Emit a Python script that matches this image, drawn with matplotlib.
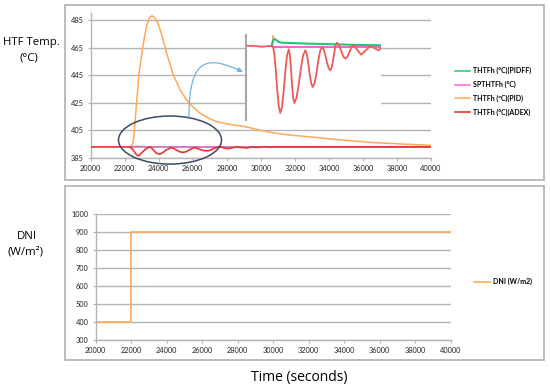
import matplotlib
matplotlib.use("Agg")
import matplotlib.pyplot as plt
from matplotlib.patches import Ellipse, Rectangle, FancyArrowPatch
from matplotlib.path import Path

# ---------------- data ----------------
time_pid = [22310, 22420, 22504, 22600, 22704, 22850, 22998, 23150, 23291, 23450,
            23600, 23780, 23973, 24200, 24466, 24858, 25250, 25642, 26000, 26425,
            26900, 27405, 28200, 29070, 30000, 30830, 31800, 32790, 34750, 36710,
            38500, 40000]
temp_pid = [393.0, 394.5, 397.0, 410.0, 426.0, 447.0, 460.0, 472.0, 481.0, 486.5,
            488.0, 486.5, 482.0, 473.0, 460.8, 445.1, 434.5, 427.0, 422.0, 417.4,
            414.0, 411.3, 409.3, 407.7, 405.0, 403.0, 401.5, 400.4, 398.0, 396.1,
            395.0, 394.2]

time_adex = [20000, 22300, 22450, 22600, 22700, 22790, 22880, 23000, 23200, 23490,
             23650, 23850, 24030, 24200, 24450, 24760, 24950, 25200, 25440, 25650,
             25900, 26130, 26400, 26650, 26910, 27150, 27500, 27800, 28050, 28300,
             28600, 28900, 29200, 29500, 29800, 30200, 30600, 31000, 40000]
temp_adex = [393.0, 393.0, 391.6, 388.9, 387.3, 386.6, 387.2, 388.8, 391.2, 393.2,
             391.3, 388.6, 387.8, 388.6, 390.9, 392.6, 391.4, 389.6, 389.0, 389.8,
             391.6, 392.6, 391.3, 390.3, 390.2, 391.3, 393.2, 392.4, 391.7, 392.3,
             393.2, 392.5, 392.3, 393.1, 392.6, 393.2, 392.9, 393.1, 393.0]

time_pidff = [22300, 22500, 22800, 23200, 24000, 25000, 40000]
temp_pidff = [393.0, 393.3, 393.4, 393.2, 393.05, 393.0, 393.0]

time_sp = [22300, 40000]
temp_sp = [392.8, 392.8]

# zoomed detail (inset)
inset_time_adex = [21000, 21500, 21830, 22100, 22384,
                   22463, 22542, 22621, 22700, 22779,
                   22866, 22953, 23040, 23127, 23214,
                   23272, 23330, 23388, 23446, 23504,
                   23618, 23732, 23847, 23961, 24075,
                   24152, 24229, 24305, 24382, 24459,
                   24555, 24652, 24748, 24845, 24941,
                   25027, 25113, 25199, 25285, 25371,
                   25441, 25510, 25580, 25649, 25719,
                   25827, 25934, 26042, 26149,
                   26258, 26366, 26475, 26584,
                   26773, 26963, 27204, 27445, 27663, 27881, 28000]
inset_temp_adex = [392.93, 392.9, 392.82, 392.88, 392.9,
                   392.26, 390.59, 388.51, 386.84, 386.2,
                   386.81, 388.40, 390.37, 391.96, 392.57,
                   392.06, 390.72, 389.05, 387.71, 387.2,
                   387.70, 389.02, 390.65, 391.97, 392.47,
                   392.12, 391.20, 390.07, 389.15, 388.8,
                   389.18, 390.18, 391.42, 392.42, 392.8,
                   392.58, 392.0, 391.27, 390.69, 390.47,
                   390.73, 391.42, 392.28, 392.97, 393.23,
                   392.99, 392.43, 391.86, 391.63,
                   391.83, 392.31, 392.80, 393.0,
                   392.51, 392.03, 392.46, 392.9, 392.68, 392.47, 392.7]
inset_time_pidff = [22330, 22420, 22470, 22560, 22700, 22867, 24000, 25000, 26000,
                    27000, 28000]
inset_temp_pidff = [392.9, 393.5, 393.63, 393.5, 393.3, 393.23, 393.15, 393.1, 393.05,
                    393.0, 392.97]
inset_time_sp = [22436, 28000]
inset_temp_sp = [392.8, 392.8]
inset_time_pid = [22330, 22390, 22450]
inset_temp_pid = [392.93, 393.5, 395.0]

dni_time = [20000, 22000, 22000, 40000]
dni_value = [400, 400, 900, 900]

x_ticks = list(range(20000, 40001, 2000))
temp_ticks = [385, 405, 425, 445, 465, 485]
dni_ticks = list(range(300, 1001, 100))

temp_labels = ["THTFh (°C)(PIDFF)", "SPTHTFh (°C)", "THTFh (ºC)(PID)", "THTFh (°C)(ADEX)"]
dni_label = "DNI (W/m2)"

# ---------------- style ----------------
C_GREEN = "#22c776"
C_PINK = "#ff62d8"
C_ORANGE = "#ffa857"
C_RED = "#e53535"
C_RED_IN = "#ee5a5a"
C_GRID = "#b4b4b4"
TICKFONT = "Lato"

W, H = 550, 390


def fx(px):
    return px / W


def fy(py):
    return 1 - py / H


fig = plt.figure(figsize=(5.5, 3.9), dpi=100)

# panel frames
for (x0, y0, x1, y1) in [(65, 5, 544, 180), (65, 186, 544, 360)]:
    fig.patches.append(Rectangle((fx(x0), fy(y1)), fx(x1) - fx(x0), fy(y0) - fy(y1),
                                 transform=fig.transFigure, fill=False,
                                 edgecolor="#b0b0b0", lw=1.2))


def style_axes(ax, yticks):
    ax.set_xticks(x_ticks)
    ax.set_yticks(yticks)
    ax.grid(axis="y", color=C_GRID, lw=1.0)
    ax.grid(axis="x", visible=False)
    ax.set_axisbelow(True)
    for s in ["top", "right"]:
        ax.spines[s].set_visible(False)
    for s in ["left", "bottom"]:
        ax.spines[s].set_color(C_GRID)
        ax.spines[s].set_linewidth(1.0)
    ax.tick_params(axis="both", length=2.5, width=0.8, color=C_GRID,
                   labelsize=5.3, pad=2.5, labelcolor="#222222")
    for lab in ax.get_xticklabels() + ax.get_yticklabels():
        lab.set_fontfamily(TICKFONT)


# ---------------- top panel ----------------
ax1 = fig.add_axes([fx(90.7), fy(158), fx(431) - fx(90.7), fy(13) - fy(158)])
ax1.set_xlim(20000, 40000)
ax1.set_ylim(385, 490)
style_axes(ax1, temp_ticks)

l_pid, = ax1.plot(time_pid, temp_pid, color=C_ORANGE, lw=1.1, zorder=2)
l_pidff, = ax1.plot(time_pidff, temp_pidff, color=C_GREEN, lw=1.1, zorder=3)
l_sp, = ax1.plot(time_sp, temp_sp, color=C_PINK, lw=1.1, zorder=3)
l_adex, = ax1.plot(time_adex, temp_adex, color=C_RED, lw=1.2, zorder=4)

# ellipse highlighting the zoomed region
ax1.add_patch(Ellipse((24661, 398.0), 6053, 34.8, fill=False, edgecolor="#3b4a66",
                      lw=1.1, clip_on=False, zorder=5))

# curved arrow to inset
verts = [(25777, 414.7), (25777, 459.0), (26900, 459.0), (28951, 447.3)]
codes = [Path.MOVETO, Path.CURVE4, Path.CURVE4, Path.CURVE4]
arrow = FancyArrowPatch(path=Path(verts, codes), arrowstyle="-|>", mutation_scale=7,
                        color="#6db3e6", lw=0.9, zorder=5)
ax1.add_patch(arrow)

fig.legend([l_pidff, l_sp, l_pid, l_adex], temp_labels, loc="center left",
           bbox_to_anchor=(fx(455), fy(91.5)), frameon=False,
           prop={"family": TICKFONT, "size": 5, "weight": "bold"},
           handlelength=2.2, handletextpad=0.45, labelspacing=0.95,
           borderpad=0, borderaxespad=0)

# inset
ax_in = fig.add_axes([fx(246), fy(120), fx(381) - fx(246), fy(35) - fy(120)])
ax_in.set_facecolor("white")
ax_in.set_xlim(21000, 28000)
ax_in.set_ylim(385.5, 394.0)
ax_in.set_xticks([])
ax_in.set_yticks([])
for s in ["top", "right", "bottom"]:
    ax_in.spines[s].set_visible(False)
ax_in.spines["left"].set_color("#a8a8a8")
ax_in.spines["left"].set_linewidth(1.5)
ax_in.plot(inset_time_pid, inset_temp_pid, color=C_ORANGE, lw=1.3)
ax_in.plot(inset_time_sp, inset_temp_sp, color=C_PINK, lw=1.5)
ax_in.plot(inset_time_pidff, inset_temp_pidff, color=C_GREEN, lw=1.5)
ax_in.plot(inset_time_adex, inset_temp_adex, color=C_RED_IN, lw=1.3)

# ---------------- bottom panel ----------------
ax2 = fig.add_axes([fx(95.7), fy(340), fx(450.7) - fx(95.7), fy(214) - fy(340)])
ax2.set_xlim(20000, 40000)
ax2.set_ylim(300, 1000)
style_axes(ax2, dni_ticks)
l_dni, = ax2.plot(dni_time, dni_value, color=C_ORANGE, lw=1.2)
fig.legend([l_dni], [dni_label], loc="center left",
           bbox_to_anchor=(fx(474), fy(281.7)), frameon=False,
           prop={"family": TICKFONT, "size": 5, "weight": "bold"},
           handlelength=2.3, handletextpad=0.45, borderpad=0, borderaxespad=0)

# ---------------- labels ----------------
LABFONT = "Open Sans"
fig.text(fx(31), fy(42), "HTF Temp.", ha="center", va="center", fontsize=8.2,
         family=LABFONT)
fig.text(fx(29), fy(57.5), "(°C)", ha="center", va="center", fontsize=8.2,
         family=LABFONT)
fig.text(fx(27), fy(237), "DNI", ha="center", va="center", fontsize=8.2,
         family=LABFONT)
fig.text(fx(26), fy(252), "(W/m²)", ha="center", va="center", fontsize=8.2,
         family=LABFONT)
fig.text(fx(299), fy(378), "Time (seconds)", ha="center", va="center", fontsize=10,
         family=LABFONT)

fig.savefig("out.png", dpi=100)
